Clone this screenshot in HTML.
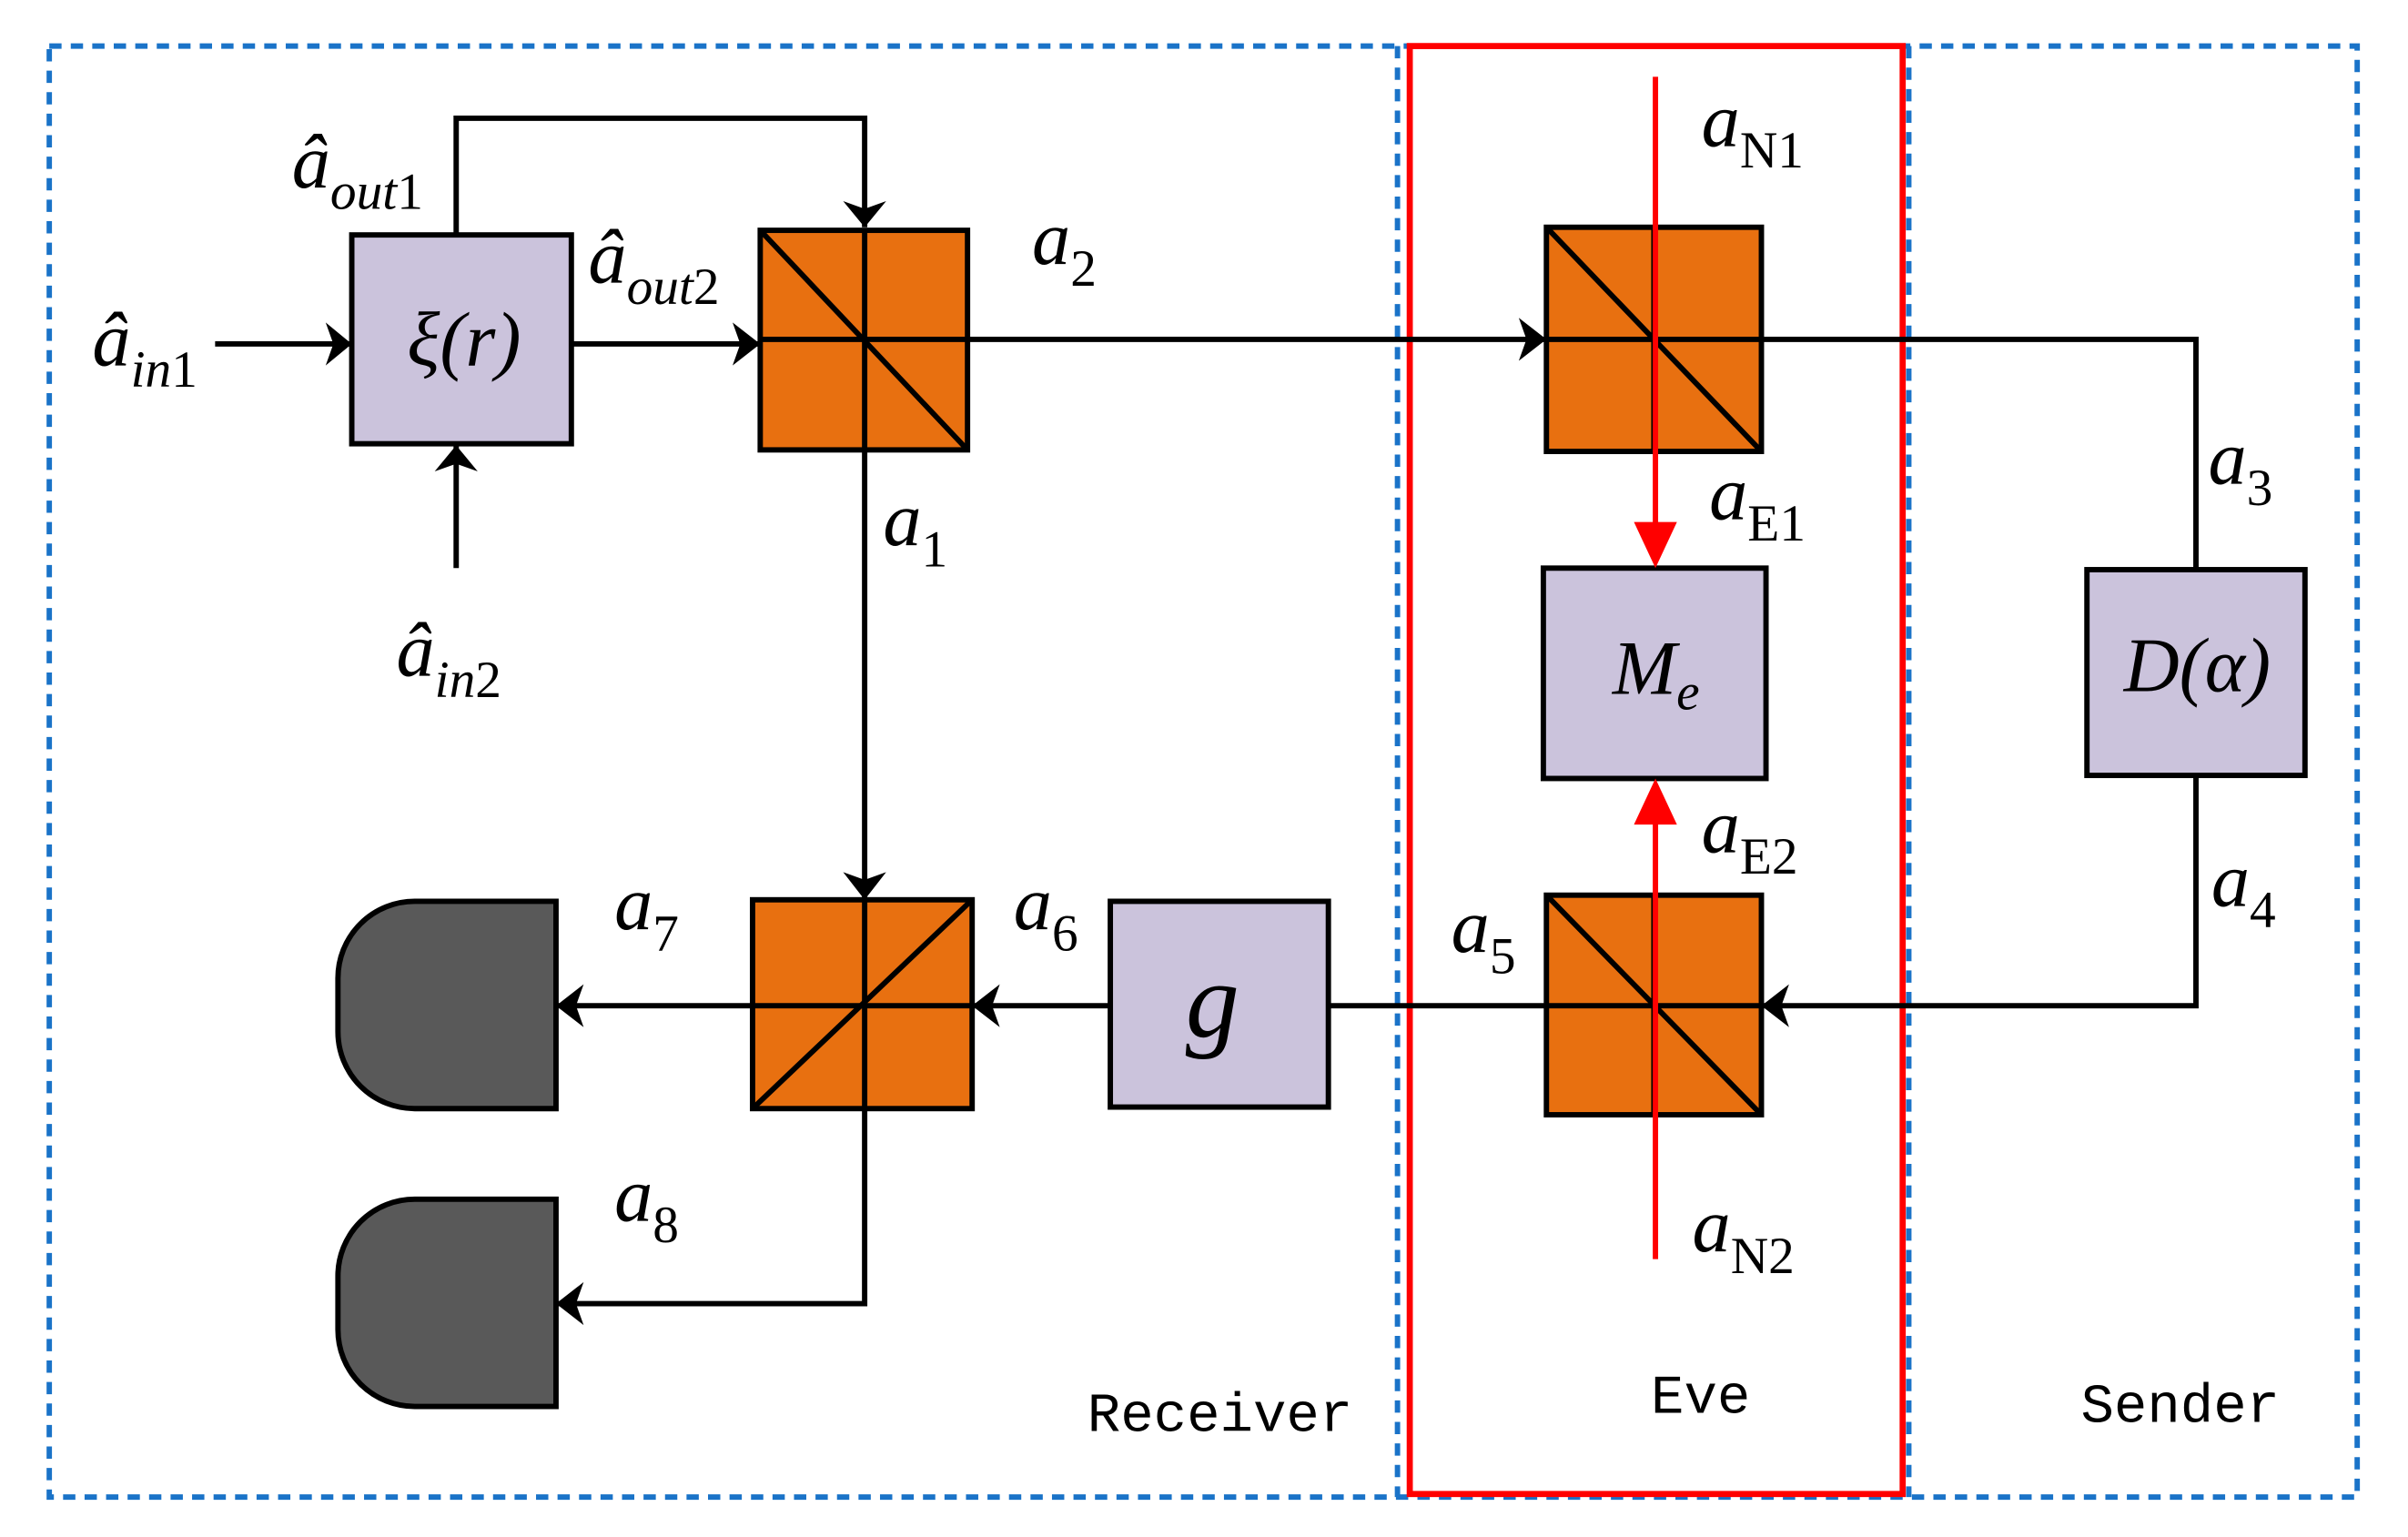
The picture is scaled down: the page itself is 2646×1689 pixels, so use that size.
<!DOCTYPE html>
<html><head><meta charset="utf-8"><style>html,body{margin:0;padding:0;background:#fff}svg{display:block}
text{font-family:"Liberation Serif",serif}
.t{font-style:italic;font-size:50px}
.s{font-size:34px}
.m{font-family:"Liberation Mono",monospace;font-size:36px}
</style></head><body>
<svg width="2646" height="1689" viewBox="0 0 1568 1001" xmlns="http://www.w3.org/2000/svg">
<style>
.l{stroke:#000;stroke-width:3.5;fill:none}
.r{stroke:#f00;stroke-width:3.5;fill:none}
.box{fill:#cbc3dc;stroke:#000;stroke-width:3.5}
.bs{fill:#e87010;stroke:#000;stroke-width:3.5}
</style>
<rect x="32" y="30" width="1503" height="945" fill="none" stroke="#1a73c8" stroke-width="3.5" stroke-dasharray="8,6"/>
<line x1="910" y1="30" x2="910" y2="975" stroke="#1a73c8" stroke-width="3.5" stroke-dasharray="8,6"/>
<line x1="1243" y1="30" x2="1243" y2="975" stroke="#1a73c8" stroke-width="3.5" stroke-dasharray="8,6"/>
<rect x="918" y="30" width="321" height="943" fill="none" stroke="#f00" stroke-width="4"/>

<line class="l" x1="140" y1="224" x2="228" y2="224"/>
<path d="M212,210 L229,224 L212,238 L217,224z" fill="#000"/>
<line class="l" x1="297" y1="370" x2="297" y2="290"/>
<path d="M283,307 L297,290 L311,307 L297,302z" fill="#000"/>
<polyline class="l" points="297,153 297,77 563,77 563,148"/>
<path d="M549,131 L563,148 L577,131 L563,136z" fill="#000"/>
<line class="l" x1="372" y1="224" x2="494" y2="224"/>
<path d="M477,210 L495,224 L477,238 L482,224z" fill="#000"/>
<line class="l" x1="630" y1="221" x2="1006" y2="221"/>
<path d="M989,207 L1007,221 L989,235 L994,221z" fill="#000"/>
<polyline class="l" points="1147,221 1430,221 1430,371"/>
<polyline class="l" points="1430,505 1430,655 1148,655"/>
<path d="M1165,641 L1147,655 L1165,669 L1160,655z" fill="#000"/>
<line class="l" x1="1007" y1="655" x2="865" y2="655"/>
<line class="l" x1="723" y1="655" x2="634" y2="655"/>
<path d="M651,641 L633,655 L651,669 L646,655z" fill="#000"/>
<line class="l" x1="490" y1="655" x2="363" y2="655"/>
<path d="M380,641 L362,655 L380,669 L375,655z" fill="#000"/>
<line class="l" x1="563" y1="293" x2="563" y2="585"/>
<path d="M549,568 L563,586 L577,568 L563,573z" fill="#000"/>
<polyline class="l" points="563,722 563,849 363,849"/>
<path d="M380,835 L362,849 L380,863 L375,849z" fill="#000"/>

<rect class="box" x="229" y="153" width="143" height="136"/>
<rect class="box" x="1005" y="370" width="145" height="137"/>
<rect class="box" x="1359" y="371" width="142" height="134"/>
<rect class="box" x="723" y="587" width="142" height="134"/>

<g class="l">
<rect class="bs" x="495" y="150" width="135" height="143"/>
<line x1="495" y1="221" x2="630" y2="221"/><line x1="563" y1="150" x2="563" y2="293"/><line x1="495" y1="150" x2="630" y2="293"/>
<rect class="bs" x="1007" y="148" width="140" height="146"/>
<line x1="1007" y1="221" x2="1147" y2="221"/><line x1="1077" y1="148" x2="1077" y2="294"/><line x1="1007" y1="148" x2="1147" y2="294"/>
<rect class="bs" x="1007" y="583" width="140" height="143"/>
<line x1="1007" y1="655" x2="1147" y2="655"/><line x1="1077" y1="583" x2="1077" y2="726"/><line x1="1007" y1="583" x2="1147" y2="726"/>
<rect class="bs" x="490" y="586" width="143" height="136"/>
<line x1="490" y1="655" x2="633" y2="655"/><line x1="563" y1="586" x2="563" y2="722"/><line x1="490" y1="722" x2="633" y2="586"/>
</g>

<path d="M362,587 L270,587 A50,50 0 0 0 220,637 L220,672 A50,50 0 0 0 270,722 L362,722 Z" fill="#595959" stroke="#000" stroke-width="3.5"/>
<path d="M362,781 L270,781 A50,50 0 0 0 220,831 L220,866 A50,50 0 0 0 270,916 L362,916 Z" fill="#595959" stroke="#000" stroke-width="3.5"/>

<line class="r" x1="1078" y1="50" x2="1078" y2="352"/>
<path d="M1064,340 L1078,370 L1092,340z" fill="#f00"/>
<line class="r" x1="1078" y1="820" x2="1078" y2="525"/>
<path d="M1064,537 L1078,507 L1092,537z" fill="#f00"/>

<text class="t" x="265" y="238">ξ(r)</text>
<text class="t" x="1050" y="452" font-size="46">M<tspan class="s" dy="10" font-size="30">e</tspan></text>
<text class="t" x="1383" y="450" font-size="40">D(α)</text>
<text x="772" y="675" font-style="italic" font-size="70">g</text>

<text class="t" x="60" y="238">â<tspan class="s" dy="14">in</tspan><tspan class="s" font-style="normal">1</tspan></text>
<text class="t" x="258" y="440">â<tspan class="s" dy="14">in</tspan><tspan class="s" font-style="normal">2</tspan></text>
<text class="t" x="190" y="122">â<tspan class="s" dy="14">out</tspan><tspan class="s" font-style="normal">1</tspan></text>
<text class="t" x="383" y="184">â<tspan class="s" dy="14">out</tspan><tspan class="s" font-style="normal">2</tspan></text>
<text class="t" x="672" y="172">a<tspan class="s" font-style="normal" dy="14">2</tspan></text>
<text class="t" x="575" y="355">a<tspan class="s" font-style="normal" dy="14">1</tspan></text>
<text class="t" x="1438" y="315">a<tspan class="s" font-style="normal" dy="14">3</tspan></text>
<text class="t" x="1440" y="590">a<tspan class="s" font-style="normal" dy="14">4</tspan></text>
<text class="t" x="945" y="620">a<tspan class="s" font-style="normal" dy="14">5</tspan></text>
<text class="t" x="660" y="605">a<tspan class="s" font-style="normal" dy="14">6</tspan></text>
<text class="t" x="400" y="605">a<tspan class="s" font-style="normal" dy="14">7</tspan></text>
<text class="t" x="400" y="795">a<tspan class="s" font-style="normal" dy="14">8</tspan></text>
<text class="t" x="1108" y="95">a<tspan class="s" font-style="normal" dy="14">N1</tspan></text>
<text class="t" x="1113" y="338">a<tspan class="s" font-style="normal" dy="14">E1</tspan></text>
<text class="t" x="1108" y="555">a<tspan class="s" font-style="normal" dy="14">E2</tspan></text>
<text class="t" x="1102" y="815">a<tspan class="s" font-style="normal" dy="14">N2</tspan></text>

<text class="m" x="708" y="932">Receiver</text>
<text class="m" x="1075" y="920">Eve</text>
<text class="m" x="1355" y="926">Sender</text>
</svg>
</body></html>
